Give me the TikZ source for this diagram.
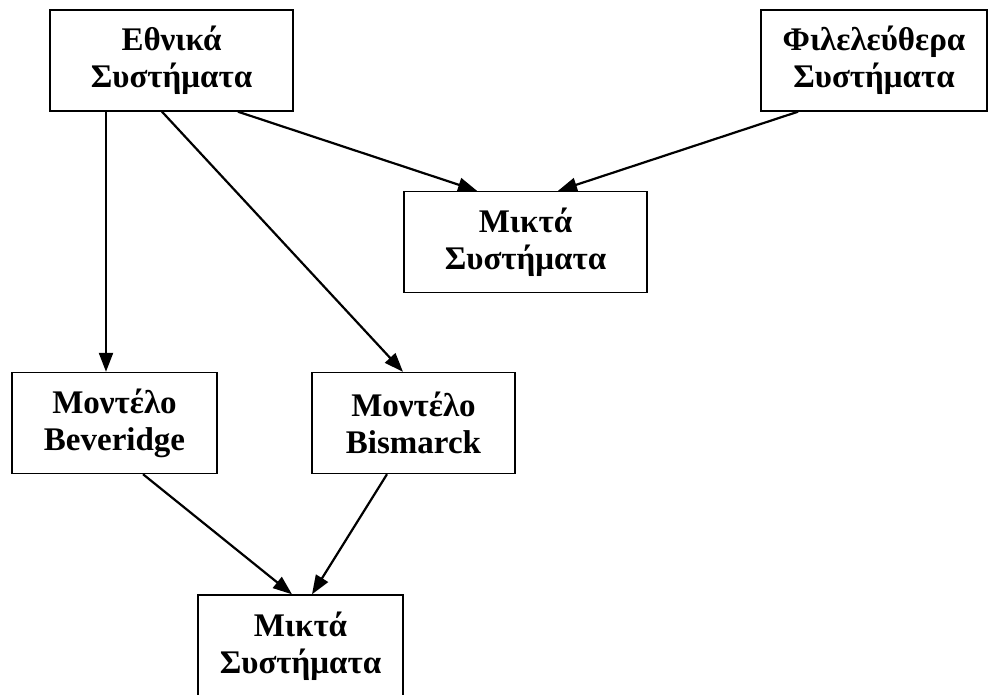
\documentclass[tikz,border=0pt]{standalone}
\usepackage{fontspec}
\setmainfont{Liberation Serif}
\usetikzlibrary{arrows.meta}
\newcommand{\widthwide}{243pt}
\newcommand{\widthmid}{226pt}
\newcommand{\widthnarrow}{205pt}
\newcommand{\heightbox}{101pt}
\tikzset{
    common/.style={draw, rectangle, line width=1.4pt, align=center,
        minimum height=\heightbox, inner sep=0pt,
        font=\fontsize{33}{37}\selectfont\bfseries},
    wide/.style={common, minimum width=\widthwide},
    mid/.style={common, minimum width=\widthmid},
    narrow/.style={common, minimum width=\widthnarrow},
    arr/.style={-{Triangle[length=19pt,width=14pt]}, line width=2.2pt}
}
\begin{document}
\begin{tikzpicture}[x=1pt, y=-1pt]
    \useasboundingbox (0,0) rectangle (992,694);
    \node[wide] (nat) at (171.5,60.5) {Εθνικά\\Συστήματα};
    \node[mid] (lib) at (874,60.5) {Φιλελεύθερα\\Συστήματα};
    \node[wide] (mixA) at (525.5,242) {Μικτά\\Συστήματα};
    \node[narrow] (bev) at (114.5,423) {Μοντέλο\\Beveridge};
    \node[narrow, minimum width=203pt] (bis) at (413.5,423) {Μοντέλο\\Bismarck};
    \node[narrow, minimum height=103pt] (mixB) at (300.5,646.5) {Μικτά\\Συστήματα};

    \draw[arr] ([xshift=-65.5pt]nat.south) -- ([xshift=-8.5pt]bev.north);
    \draw[arr] ([xshift=-9.5pt]nat.south) -- ([xshift=-10.5pt]bis.north);
    \draw[arr] ([xshift=66.5pt]nat.south) -- ([xshift=-48.5pt]mixA.north);
    \draw[arr] ([xshift=-76pt]lib.south) -- ([xshift=32.5pt]mixA.north);
    \draw[arr] ([xshift=28.5pt]bev.south) -- ([xshift=-8.5pt]mixB.north);
    \draw[arr] ([xshift=-26.5pt]bis.south) -- ([xshift=11.5pt]mixB.north);
\end{tikzpicture}
\end{document}
